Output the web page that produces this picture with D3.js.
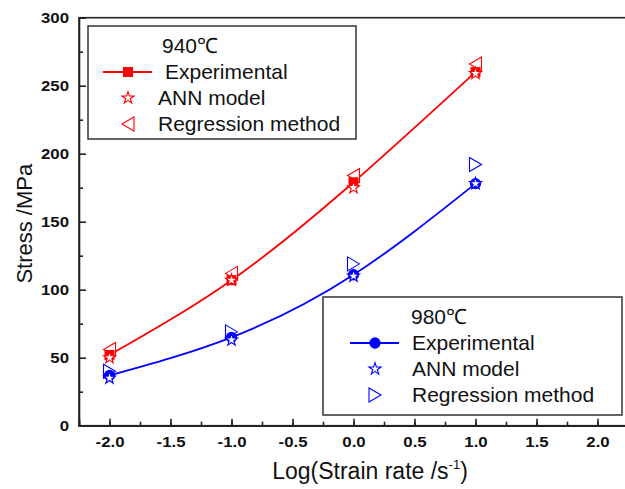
<!DOCTYPE html>
<html>
<head>
<meta charset="utf-8">
<script src="https://cdn.jsdelivr.net/npm/d3@7"></script>
<style>
  body { margin: 0; background: #fff; }
  svg { display: block; font-family: "Liberation Sans", Arial, sans-serif; }
</style>
</head>
<body>
<svg id="chart"></svg>
<script>
// log strain rate values
const rates = [-2, -1, 0, 1];

// 940 C
const exp940 = [52, 107, 179, 260];
const ann940 = [50, 107, 175, 259];
const reg940 = [56, 112, 184, 266];

// 980 C
const exp980 = [37, 65, 111, 178];
const ann980 = [35, 63, 110, 178];
const reg980 = [40, 69, 119, 192];

const xTicks = [-2.0, -1.5, -1.0, -0.5, 0.0, 0.5, 1.0, 1.5, 2.0];
const yTicks = [0, 50, 100, 150, 200, 250, 300];

const legend940 = ['Experimental', 'ANN model', 'Regression method'];
const legend980 = ['Experimental', 'ANN model', 'Regression method'];

const width = 625, height = 489;
const margin = { top: 17.7, left: 79, right: -3, bottom: 63.3 };
const red = '#ff0000', blue = '#0000ff';

const svg = d3.select('#chart')
    .attr('width', width)
    .attr('height', height);

const x = d3.scaleLinear()
  .domain([-2.25, 2.25])
  .range([margin.left, width - margin.right]);

const y = d3.scaleLinear()
  .domain([0, 300])
  .range([height - margin.bottom, margin.top]);

// minor ticks first, majors on top
svg.append('g')
  .attr('transform', `translate(0, ${y(0)})`)
  .call(d3.axisBottom(x).tickValues(d3.range(-2.25, 2.3, 0.25)).tickSize(-4).tickFormat(''))
  .call(g => g.select('.domain').remove())

svg.append('g')
  .attr('transform', `translate(${x(-2.25)}, 0)`)
  .call(d3.axisLeft(y).tickValues(d3.range(25, 300, 50)).tickSize(-4).tickFormat(''))
  .call(g => g.select('.domain').remove())

const xAxis = svg.append('g')
  .attr('class', 'x axis')
  .attr('transform', `translate(0, ${y(0)})`)
  .call(d3.axisBottom(x).tickValues(xTicks).tickSize(-7).tickPadding(11).tickFormat(d3.format('.1f')))

const yAxis = svg.append('g')
  .attr('class', 'y axis')
  .attr('transform', `translate(${x(-2.25)}, 0)`)
  .call(d3.axisLeft(y).tickValues(yTicks).tickSize(-7).tickFormat(d3.format('d')))

svg.selectAll('g .tick line, .axis .domain')
  .attr('stroke', '#222')
  .attr('stroke-width', 1.6)

// tick labels in the picture are bold and a bit wide
svg.selectAll('.axis text')
  .attr('fill', '#111')
  .style('font-family', '"Liberation Sans", Arial, sans-serif')
  .style('font-size', '14px')
  .style('font-weight', 'bold')
  .text(function() { return this.textContent.replace('\u2212', '-') })

xAxis.selectAll('text').attr('transform', 'scale(1.2,1)')
yAxis.selectAll('text')
  .attr('x', -10 / 1.2)
  .attr('transform', 'scale(1.2,1)')

// frame (right side falls just outside the image)
svg.append('rect')
  .attr('x', x(-2.25))
  .attr('y', y(300))
  .attr('width', x(2.25) - x(-2.25))
  .attr('height', y(0) - y(300))
  .attr('fill', 'none')
  .attr('stroke', '#222')
  .attr('stroke-width', 1.6)

// axis titles
svg.append('text')
  .attr('x', 370)
  .attr('y', 479)
  .attr('text-anchor', 'middle')
  .style('font-size', '23px')
  .attr('fill', '#111')
  .call(t => {
    t.append('tspan').text('Log(Strain rate /s')
    t.append('tspan').attr('dy', -10).style('font-size', '13px').text('-1')
    t.append('tspan').attr('dy', 10).text(')')
  })

svg.append('text')
  .attr('transform', `translate(32, ${y(150) + 2}) rotate(-90)`)
  .attr('text-anchor', 'middle')
  .style('font-size', '22px')
  .attr('fill', '#111')
  .text('Stress /MPa')

// marker shapes
const star = d3.symbol().type(d3.symbolStar).size(45)
const square = d3.symbol().type(d3.symbolSquare).size(100)
const circle = d3.symbol().type(d3.symbolCircle).size(100)
const triLeft = 'M-6,0L6,-7L6,7Z'
const triRight = 'M6,0L-6,-7L-6,7Z'

const line = d3.line()
  .x((d, i) => x(rates[i]))
  .y(d => y(d))
  .curve(d3.curveNatural)

function drawSeries(exp, ann, reg, color, expShape, triPath) {
  svg.append('path')
    .datum(exp)
    .attr('d', line)
    .attr('fill', 'none')
    .attr('stroke', color)
    .attr('stroke-width', 1.8)

  svg.selectAll(null)
    .data(reg)
    .enter().append('path')
    .attr('transform', (d, i) => `translate(${x(rates[i])}, ${y(d)})`)
    .attr('d', triPath)
    .attr('fill', '#fff')
    .attr('stroke', color)
    .attr('stroke-width', 1.1)

  svg.selectAll(null)
    .data(exp)
    .enter().append('path')
    .attr('transform', (d, i) => `translate(${x(rates[i])}, ${y(d)})`)
    .attr('d', expShape)
    .attr('fill', color)

  svg.selectAll(null)
    .data(ann)
    .enter().append('path')
    .attr('transform', (d, i) => `translate(${x(rates[i])}, ${y(d)})`)
    .attr('d', star)
    .attr('fill', '#fff')
    .attr('stroke', color)
    .attr('stroke-width', 1.1)
}

drawSeries(exp940, ann940, reg940, red, square, triLeft)
drawSeries(exp980, ann980, reg980, blue, circle, triRight)

// legends
function drawLegend(box, title, labels, color, expShape, triPath) {
  const g = svg.append('g')

  g.append('rect')
    .attr('x', box.x)
    .attr('y', box.y)
    .attr('width', box.w)
    .attr('height', box.h)
    .attr('fill', '#fff')
    .attr('stroke', '#333')
    .attr('stroke-width', 1.5)

  g.append('text')
    .attr('x', box.titleX)
    .attr('y', box.y + 27)
    .style('font-size', '21px')
    .attr('fill', '#111')
    .text(title)

  const rowY = [box.y + 46, box.y + 72, box.y + 98]
  const mx = box.markerX

  g.append('line')
    .attr('x1', mx - 25).attr('x2', mx + 24)
    .attr('y1', rowY[0]).attr('y2', rowY[0])
    .attr('stroke', color)
    .attr('stroke-width', 1.8)
  g.append('path')
    .attr('transform', `translate(${mx}, ${rowY[0]})`)
    .attr('d', expShape)
    .attr('fill', color)
  g.append('path')
    .attr('transform', `translate(${mx}, ${rowY[1]})`)
    .attr('d', star)
    .attr('fill', '#fff')
    .attr('stroke', color)
    .attr('stroke-width', 1.1)
  g.append('path')
    .attr('transform', `translate(${mx}, ${rowY[2]})`)
    .attr('d', triPath)
    .attr('fill', '#fff')
    .attr('stroke', color)
    .attr('stroke-width', 1.1)

  g.selectAll('.lbl')
    .data(labels)
    .enter().append('text')
    .attr('class', 'lbl')
    .attr('x', (d, i) => i == 0 ? box.textX + box.expShift : box.textX)
    .attr('y', (d, i) => rowY[i] + 7)
    .style('font-size', '21px')
    .attr('fill', '#111')
    .text(d => d)
}

drawLegend({ x: 88, y: 26, w: 268, h: 113, titleX: 162, markerX: 128, textX: 158, expShift: 7 },
  '940\u2103', legend940, red, square, triLeft)
drawLegend({ x: 323, y: 297, w: 299, h: 118, titleX: 411, markerX: 375, textX: 412, expShift: 0 },
  '980\u2103', legend980, blue, circle, triRight)
</script>
</body>
</html>
